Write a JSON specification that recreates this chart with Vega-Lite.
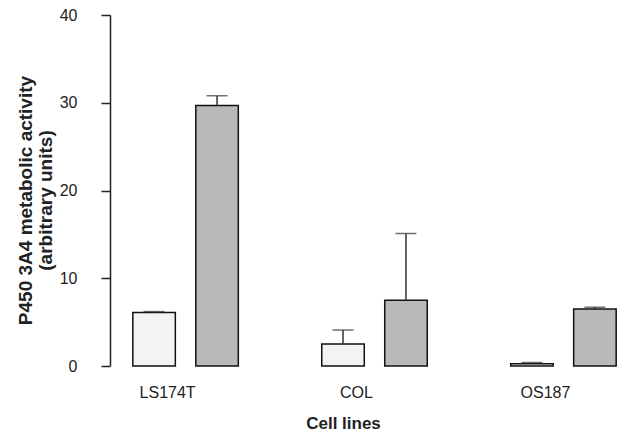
{
  "$schema": "https://vega.github.io/schema/vega-lite/v6.json",
  "width": 529,
  "height": 351,
  "autosize": "none",
  "padding": {"left": 110, "top": 15, "right": 0, "bottom": 66},
  "background": "white",
  "config": {
    "view": {"stroke": null},
    "font": "Liberation Sans",
    "axis": {"labelFont": "Liberation Sans", "titleFont": "Liberation Sans", "grid": false}
  },
  "data": {
    "values": [
      {"cell": "LS174T", "group": "control", "value": 6.1, "upper": 6.2},
      {"cell": "LS174T", "group": "treated", "value": 29.7, "upper": 30.8},
      {"cell": "COL", "group": "control", "value": 2.5, "upper": 4.1},
      {"cell": "COL", "group": "treated", "value": 7.5, "upper": 15.1},
      {"cell": "OS187", "group": "control", "value": 0.25, "upper": 0.4},
      {"cell": "OS187", "group": "treated", "value": 6.5, "upper": 6.7}
    ]
  },
  "encoding": {
    "x": {
      "field": "cell",
      "type": "nominal",
      "sort": ["LS174T", "COL", "OS187"],
      "scale": {"paddingInner": 0.4, "paddingOuter": 0.1},
      "axis": {
        "domain": false,
        "ticks": false,
        "tickSize": 0,
        "labelAngle": 0,
        "labelFontSize": 16,
        "labelColor": "#222222",
        "labelOffset": -18,
        "labelBaseline": "alphabetic",
        "labelPadding": 31,
        "title": "Cell lines",
        "titleFontSize": 17,
        "titleFontWeight": "bold",
        "titleColor": "#222222",
        "titleX": 233,
        "titleY": 62,
        "titleBaseline": "alphabetic"
      }
    },
    "xOffset": {
      "field": "group",
      "type": "nominal",
      "sort": ["control", "treated"],
      "scale": {"paddingInner": 0.325, "paddingOuter": 0.0625}
    }
  },
  "layer": [
    {
      "mark": {"type": "bar", "stroke": "#111111", "strokeWidth": 1.5},
      "encoding": {
        "y": {
          "field": "value",
          "type": "quantitative",
          "scale": {"domain": [0, 40], "nice": false},
          "axis": {
            "values": [0, 10, 20, 30, 40],
            "domain": true,
            "domainColor": "#222222",
            "domainWidth": 1.5,
            "ticks": true,
            "tickColor": "#222222",
            "tickWidth": 1.5,
            "tickSize": 9,
            "labelFontSize": 16,
            "labelColor": "#222222",
            "labelPadding": 24,
            "title": ["P450 3A4 metabolic activity", "(arbitrary units)"],
            "titleFontSize": 19,
            "titleFontWeight": "bold",
            "titleColor": "#222222",
            "titleLineHeight": 20.5,
            "titleX": -85,
            "titleY": 185,
            "titleBaseline": "middle",
            "titleAlign": "center"
          }
        },
        "fill": {
          "field": "group",
          "type": "nominal",
          "scale": {"domain": ["control", "treated"], "range": ["#f3f3f3", "#b9b9b9"]},
          "legend": null
        }
      }
    },
    {
      "mark": {"type": "rule", "color": "#333333", "strokeWidth": 1.5},
      "encoding": {
        "y": {"field": "value", "type": "quantitative"},
        "y2": {"field": "upper"}
      }
    },
    {
      "mark": {"type": "tick", "color": "#333333", "thickness": 1.5, "size": 21},
      "encoding": {
        "y": {"field": "upper", "type": "quantitative"}
      }
    },
    {
      "mark": {"type": "rule", "color": "#222222", "strokeWidth": 1.5},
      "encoding": {
        "y": {"datum": 0, "type": "quantitative"}
      }
    }
  ]
}
